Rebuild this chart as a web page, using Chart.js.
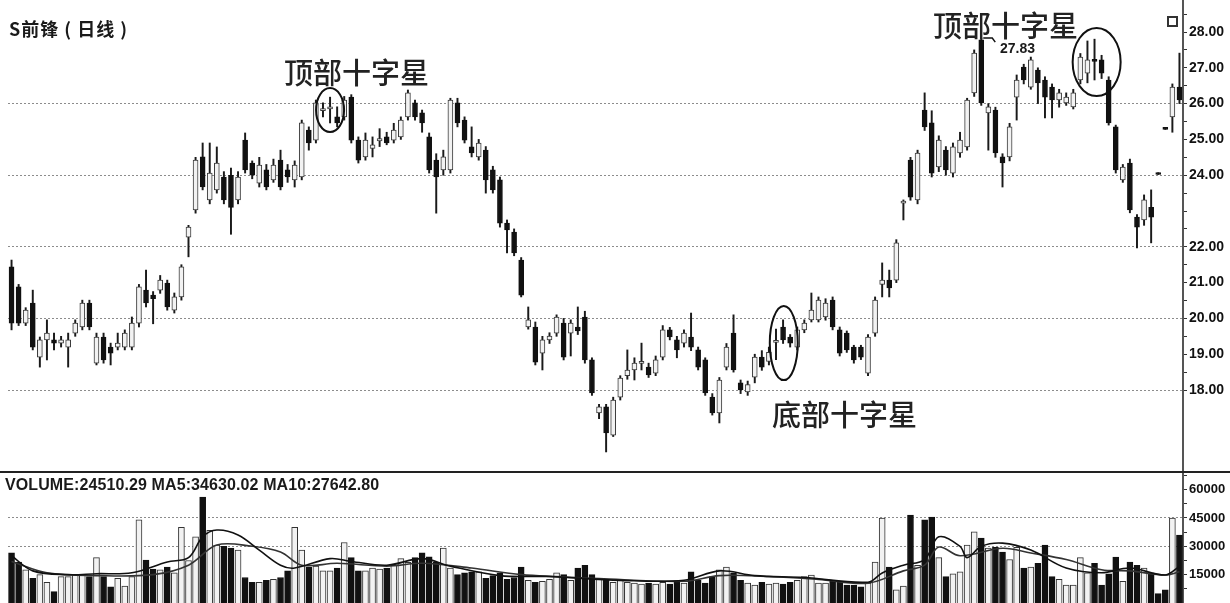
<!DOCTYPE html>
<html><head><meta charset="utf-8">
<script src="https://cdn.jsdelivr.net/npm/chart.js@4.4.1/dist/chart.umd.min.js"></script>
<style>
html,body{margin:0;padding:0;background:#fff;}
#wrap{position:relative;width:1230px;height:603px;overflow:hidden;background:#fff;}
#c1{position:absolute;left:0;top:0;}
#c2{position:absolute;left:0;top:473px;}
#sep{position:absolute;left:0;top:471px;width:1230px;height:2px;background:#222;}
.t{position:absolute;white-space:nowrap;color:#1a1a1a;line-height:1;}
.title{left:9px;top:15px;font:bold 18px "Noto Sans CJK SC","Liberation Sans",sans-serif;letter-spacing:1px;}
.ann{font:500 29px "Noto Sans CJK SC",sans-serif;color:#222;}
.vol{left:5px;top:476px;font:bold 16px "Liberation Sans",Arial,sans-serif;letter-spacing:0.1px;}
.hi{left:1000px;top:40px;font:bold 14px "Liberation Sans",Arial,sans-serif;}
#sq{position:absolute;left:1167px;top:16px;width:7px;height:7px;border:2px solid #333;}
</style></head>
<body>
<div id="wrap">
<canvas id="c1" width="1230" height="472"></canvas>
<div id="sep"></div>
<canvas id="c2" width="1230" height="130"></canvas>
<div class="t title">S前锋 ( 日线 )</div>
<div class="t ann" style="left:284px;top:50px;">顶部十字星</div>
<div class="t ann" style="left:933px;top:3px;">顶部十字星</div>
<div class="t ann" style="left:772px;top:392px;">底部十字星</div>
<div class="t vol">VOLUME:24510.29 MA5:34630.02 MA10:27642.80</div>
<div class="t hi">27.83</div>
<div id="sq"></div>
</div>
<script>
const opens = [
21.44,20.88,19.87,20.43,18.92,19.40,19.40,19.31,19.20,19.59,
19.76,20.43,18.75,19.48,19.20,19.20,19.20,19.20,19.87,20.79,
20.65,20.79,20.99,20.23,20.60,22.27,23.03,24.51,23.31,23.59,
23.95,24.00,23.31,24.98,24.34,23.78,24.15,23.87,24.42,24.15,
23.87,23.95,25.26,24.98,25.80,25.85,25.63,25.63,26.18,24.98,
24.51,24.75,24.96,25.07,24.98,25.07,25.63,26.02,25.74,25.07,
24.42,24.15,24.15,26.02,25.54,24.79,24.51,24.70,24.15,23.87,
22.66,22.41,21.63,19.76,19.76,19.03,19.40,19.59,19.87,19.59,
19.76,20.04,18.84,17.36,17.53,16.74,17.80,18.40,18.56,18.74,
18.64,18.47,18.92,19.68,19.40,19.31,19.48,19.12,18.84,17.80,
17.36,18.64,19.59,18.20,17.95,18.36,18.92,18.80,19.33,19.76,
19.48,19.20,19.68,19.96,19.96,20.04,20.51,19.68,19.59,19.20,
19.20,18.47,19.59,20.95,21.07,21.07,23.22,24.42,23.31,25.82,
25.46,24.23,24.70,24.06,24.62,24.79,26.30,27.78,25.74,25.82,
24.51,24.51,26.18,27.02,26.46,26.94,26.66,26.46,26.10,26.02,
25.91,26.66,26.85,27.23,27.22,26.66,25.35,23.87,24.34,22.83,
22.75,23.10,24.07,25.33,25.63,26.46];
const highs = [
21.63,20.95,20.30,20.79,19.48,19.96,19.59,19.50,19.59,19.96,
20.51,20.51,19.59,19.59,19.31,19.59,19.68,20.04,20.95,21.35,
20.75,21.20,21.07,20.71,21.50,22.60,24.50,24.90,24.90,24.79,
24.10,24.20,24.10,25.18,24.40,24.50,24.30,24.45,24.70,24.30,
24.40,25.54,25.35,26.10,26.02,26.18,25.91,26.20,26.25,25.07,
25.18,25.07,25.30,25.20,25.45,25.63,26.38,26.10,25.82,25.18,
24.60,24.70,26.15,26.15,25.63,25.35,25.00,24.80,24.25,23.95,
22.75,22.50,21.70,20.32,19.90,19.50,19.60,20.10,20.00,19.96,
20.32,20.20,18.90,17.60,17.60,17.80,18.40,19.12,18.90,19.31,
18.75,18.95,19.80,19.75,19.50,19.68,20.15,19.20,18.90,17.90,
18.35,19.30,20.10,18.28,18.25,19.00,19.10,19.20,19.70,19.96,
19.55,19.76,19.96,20.71,20.60,20.55,20.60,19.76,19.65,19.25,
19.25,19.55,20.60,21.55,21.35,22.20,23.31,24.50,24.70,26.30,
25.80,25.10,24.80,24.90,25.20,26.15,27.50,27.83,26.00,25.90,
24.60,25.45,26.80,27.10,27.30,27.00,26.75,26.55,26.40,26.30,
26.40,27.40,27.75,27.80,27.35,26.75,25.40,24.30,24.45,22.90,
23.45,23.59,24.07,25.33,26.55,27.41];
const lows = [
19.68,19.80,19.80,19.12,18.64,18.84,19.12,19.20,18.64,19.50,
19.68,19.68,18.70,18.75,18.70,19.12,19.12,19.12,19.76,20.32,
19.85,20.70,20.23,20.15,20.51,21.72,22.94,23.59,23.20,23.50,
23.20,22.35,23.20,24.06,23.90,23.67,23.59,23.80,23.59,23.80,
23.67,23.87,24.70,24.90,25.63,25.46,25.35,25.54,24.90,24.34,
24.42,24.51,24.80,24.85,24.90,25.00,25.54,25.54,25.20,24.06,
22.94,24.00,24.06,25.35,24.90,24.51,24.42,23.50,23.50,22.55,
21.83,21.75,20.60,19.70,18.70,18.56,19.30,19.50,18.84,18.95,
19.55,18.75,17.85,17.20,16.27,16.70,17.72,18.30,18.28,18.56,
18.35,18.40,18.84,19.40,18.90,19.20,19.10,18.56,17.85,17.30,
17.08,18.56,18.50,17.90,17.85,18.20,18.55,18.70,18.85,19.30,
19.20,19.12,19.60,19.90,19.90,19.95,19.68,18.95,19.05,18.75,
18.85,18.40,19.50,20.60,20.60,21.00,22.75,23.30,23.20,25.25,
23.95,24.10,24.00,23.95,24.50,24.70,26.20,25.95,24.70,24.50,
23.67,24.40,25.54,26.55,26.40,26.00,25.60,25.60,25.90,25.95,
25.85,26.55,26.58,26.66,26.70,25.40,24.06,23.80,22.95,21.97,
22.60,22.11,24.02,25.28,25.20,26.00];
const closes = [
19.87,19.87,20.23,19.20,19.40,19.59,19.31,19.40,19.40,19.87,
20.43,19.76,19.48,18.84,19.03,19.31,19.59,19.87,20.88,20.43,
20.55,21.07,20.32,20.60,21.44,22.55,24.42,23.67,24.06,24.34,
23.31,23.10,23.95,24.15,24.00,24.28,23.67,24.28,23.67,23.95,
24.28,25.46,24.90,26.02,25.86,25.91,25.46,26.10,24.98,24.42,
24.98,24.85,25.02,24.90,25.26,25.54,26.30,25.63,25.46,24.15,
23.95,24.51,26.10,25.46,24.98,24.62,24.90,23.87,23.59,22.66,
22.47,21.83,20.65,19.96,18.78,19.40,19.51,20.04,18.92,19.87,
19.65,18.84,17.92,17.53,16.80,17.72,18.33,18.56,18.75,18.80,
18.42,18.84,19.68,19.48,19.12,19.59,19.20,18.64,17.92,17.36,
18.28,19.20,18.56,18.00,18.15,18.92,18.64,19.05,19.39,19.40,
19.31,19.68,19.87,20.23,20.51,20.43,19.76,19.03,19.12,18.84,
18.92,19.48,20.51,21.07,20.85,22.11,23.28,23.39,24.62,25.35,
24.06,24.98,24.15,24.79,24.98,26.10,27.41,26.02,25.91,24.62,
24.34,25.35,26.66,26.66,27.22,26.58,26.18,26.10,26.30,26.18,
26.30,27.30,27.22,27.18,26.85,25.46,24.15,24.23,23.03,22.55,
23.31,22.83,24.02,25.28,26.46,26.10];
const volumes = [
26500,21700,17500,13000,15000,11000,6000,14000,14000,15000,15000,14000,
24000,14000,8500,13000,9000,14000,44000,22700,18000,17500,19000,16000,
40000,22500,35000,56000,38500,30700,30000,29000,28000,13500,11000,11000,
12000,12500,13500,17000,40000,28000,19000,19500,17000,17000,18500,32000,
24000,17000,17000,18500,18000,18500,20000,23500,21500,24000,26500,24500,
21500,29000,18500,15000,16000,16500,16500,13000,14500,16000,12500,13500,
19000,12000,11000,11500,12500,16000,15000,12000,18500,20000,15000,12500,
12000,11000,12500,11000,10500,10000,10500,10000,11000,10000,11000,10500,
16500,12000,10500,14000,17500,19000,16000,12000,10500,9500,11000,10000,
10500,10000,11000,12000,14000,14800,10600,10600,11500,11500,9500,9500,
8500,10500,21700,45000,19000,7000,9000,46500,20000,44000,45500,24000,
14000,15500,16500,30700,37600,34400,29000,29500,27000,23000,29500,18500,
19000,21000,30700,14000,12500,9500,9500,24000,16000,21000,9500,15500,
24300,11500,21700,20000,18500,16000,5000,7000,45000,36000];
// moving-average lines: [candle index, volume]
const ma5Points = [[0,25000],[3,17000],[8,15000],[12,15500],[17,16000],[22,21700],[25,24000],[27,35000],[29,38600],[32,36000],[35,28000],[38,20000],[40,18500],[45,23500],[48,22000],[53,20000],[58,23500],[62,19500],[69,14500],[76,14000],[86,12000],[95,12000],[100,17000],[105,14500],[112,13500],[121,11000],[123,15900],[126,20000],[129,23000],[131,35000],[134,30000],[135,24000],[137,30000],[140,31700],[144,28000],[149,18500],[154,16000],[158,18500],[163,14800],[165,19400]];
const ma10Points = [[0,22000],[5,16000],[12,14500],[20,15000],[25,20000],[29,30700],[34,30000],[38,27000],[41,20000],[46,21000],[53,19500],[58,21000],[65,18500],[72,15000],[83,13000],[95,11500],[100,14500],[107,14000],[114,12500],[121,10500],[126,17000],[129,20000],[131,29600],[134,25000],[140,29000],[144,26500],[149,23000],[154,17600],[158,17000],[163,14800],[165,16500]];
const priceTickLabels = [18,19,20,21,22,24,25,26,27,28];
const priceGridValues = [18,20,22,24,26];
const volTickValues = [7500,15000,22500,30000,37500,45000,52500,60000,67500];
const volTickLabels = [15000,30000,45000,60000];
const volGridValues = [30000,45000];

Chart.defaults.font.family = "'Liberation Sans', Arial, sans-serif";
const idx = opens.map((_, i) => i);
const isUp = closes.map((c, i) => c >= opens[i]);
const bodies = opens.map((o, i) => [o, closes[i]]);
const wicks = lows.map((l, i) => [l, highs[i]]);
const peakIndex = highs.indexOf(Math.max(...highs));

const circles = [
  {i: 45, p: 25.82, rx: 14, ry: 22},
  {i: 109.1, p: 19.31, rx: 14, ry: 37},
  {i: 153.3, p: 27.16, rx: 24, ry: 34}
];
const marksPlugin = {
  id: 'marks',
  afterDatasetsDraw(chart) {
    const {ctx, scales: {x, y}} = chart;
    ctx.save();
    ctx.strokeStyle = '#111';
    ctx.lineWidth = 2;
    circles.forEach(a => {
      ctx.beginPath();
      ctx.ellipse(x.getPixelForValue(a.i), y.getPixelForValue(a.p), a.rx, a.ry, 0, 0, Math.PI * 2);
      ctx.stroke();
    });
    const hx = x.getPixelForValue(peakIndex), hy = y.getPixelForValue(highs[peakIndex]);
    ctx.lineWidth = 1.5;
    ctx.beginPath();
    ctx.moveTo(hx + 2, hy); ctx.lineTo(hx + 11, hy); ctx.lineTo(hx + 14, hy + 4);
    ctx.stroke();
    ctx.restore();
  }
};
const fitRight = s => { s.width = 47; s.paddingTop = 0; s.paddingBottom = 0; };

new Chart(document.getElementById('c1'), {
  type: 'bar',
  data: {labels: idx, datasets: [
    {data: wicks, backgroundColor: '#1a1a1a', barThickness: 1.3, grouped: false, order: 2},
    {data: bodies, backgroundColor: isUp.map(u => u ? '#f2f2f2' : '#111'),
     borderColor: isUp.map(u => u ? '#3a3a3a' : '#111'), borderWidth: 1, borderSkipped: false,
     barThickness: 5, grouped: false, minBarLength: 2, order: 1}
  ]},
  options: {
    responsive: false, animation: false,
    layout: {padding: {left: 8, right: 0, top: 0, bottom: 0}},
    plugins: {legend: {display: false}, tooltip: {enabled: false}},
    scales: {
      x: {display: false, offset: true},
      y: {position: 'right', min: 15.71, max: 28.894, afterFit: fitRight,
        ticks: {stepSize: 0.5, includeBounds: false, autoSkip: false, padding: 2, color: '#111',
          font: {size: 14, weight: 'bold'},
          callback: v => priceTickLabels.includes(v) ? v.toFixed(2) : ''},
        grid: {color: c => (c.tick && priceGridValues.includes(c.tick.value)) ? '#8c8c8c' : 'rgba(0,0,0,0)',
          tickColor: c => (c.tick && c.tick.value >= 17.9) ? '#333' : 'rgba(0,0,0,0)',
          tickLength: 4, lineWidth: 1},
        border: {display: true, color: '#555', width: 2, dash: [2, 2]}
      }
    }
  },
  plugins: [marksPlugin]
});

new Chart(document.getElementById('c2'), {
  type: 'bar',
  data: {labels: idx, datasets: [
    {type: 'line', data: ma5Points.map(p => ({x: p[0], y: p[1]})), borderColor: '#111', borderWidth: 1.6, pointRadius: 0, tension: 0.35, order: 0},
    {type: 'line', data: ma10Points.map(p => ({x: p[0], y: p[1]})), borderColor: '#333', borderWidth: 1.6, pointRadius: 0, tension: 0.35, order: 0},
    {data: volumes, backgroundColor: isUp.map(u => u ? '#f2f2f2' : '#111'),
     borderColor: isUp.map(u => u ? '#333' : '#111'), borderWidth: 1, barThickness: 6, order: 1}
  ]},
  options: {
    responsive: false, animation: false,
    layout: {padding: {left: 8, right: 0, top: 0, bottom: 0}},
    plugins: {legend: {display: false}, tooltip: {enabled: false}},
    scales: {
      x: {display: false, offset: true},
      y: {position: 'right', min: 0, max: 68800, afterFit: fitRight,
        afterBuildTicks: s => { s.ticks = volTickValues.map(v => ({value: v})); },
        ticks: {autoSkip: false, padding: 2, color: '#111',
          font: {size: 13, weight: 'bold'},
          callback: v => volTickLabels.includes(v) ? String(v) : ''},
        grid: {color: c => (c.tick && volGridValues.includes(c.tick.value)) ? '#8c8c8c' : 'rgba(0,0,0,0)',
          tickColor: '#333', tickLength: 4, lineWidth: 1},
        border: {display: true, color: '#555', width: 2, dash: [2, 2]}
      }
    }
  }
});
</script>
</body></html>
